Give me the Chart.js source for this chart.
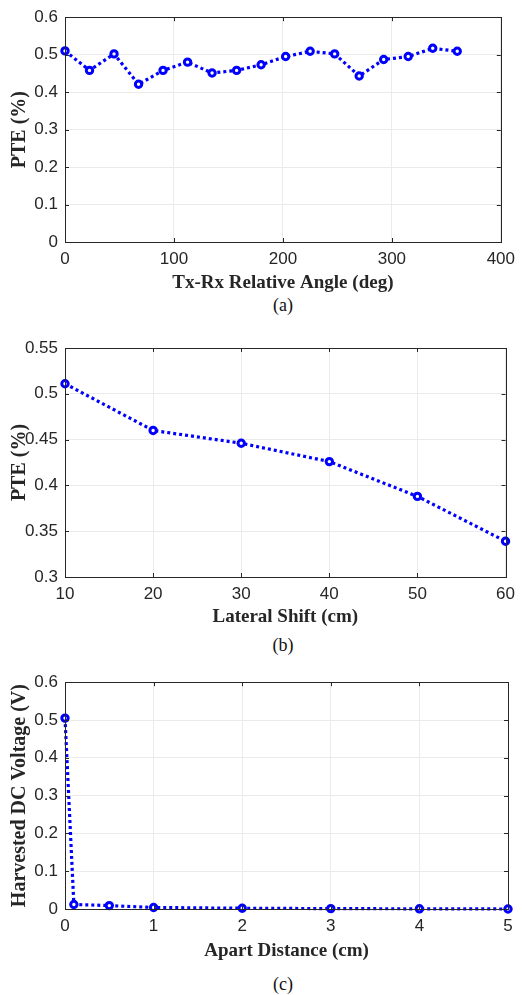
<!DOCTYPE html>
<html>
<head>
<meta charset="utf-8">
<script src="https://cdn.jsdelivr.net/npm/chart.js@4"></script>
<style>
  body { margin: 0; background: #fff; }
  .page { position: relative; width: 522px; height: 995px; }
  .panel { position: absolute; left: 0; }
  .caption {
    position: absolute; left: 233px; width: 100px; text-align: center;
    font: 18px 'Liberation Serif', serif; line-height: 20px; color: #111;
  }
</style>
</head>
<body>
<div class="page">
  <canvas id="chartA" class="panel" width="522" height="294" style="top:0px"></canvas>
  <div class="caption" style="top:295px">(a)</div>
  <canvas id="chartB" class="panel" width="522" height="298" style="top:330px"></canvas>
  <div class="caption" style="top:635px">(b)</div>
  <canvas id="chartC" class="panel" width="522" height="297" style="top:665px"></canvas>
  <div class="caption" style="top:974px">(c)</div>
</div>
<script>
// (a) PTE vs relative angle
const angleDeg = [0, 22.5, 45, 67.5, 90, 112.5, 135, 157.5, 180, 202.5, 225, 247.5, 270, 292.5, 315, 337.5, 360]
const pteAngle = [0.510, 0.458, 0.502, 0.421, 0.458, 0.480, 0.451, 0.458, 0.473, 0.495, 0.509, 0.502, 0.443, 0.487, 0.495, 0.517, 0.509]

// (b) PTE vs lateral shift
const shiftCm = [10, 20, 30, 40, 50, 60]
const pteShift = [0.511, 0.460, 0.446, 0.426, 0.388, 0.339]

// (c) harvested DC voltage vs apart distance
const distanceCm = [0, 0.1, 0.5, 1, 2, 3, 4, 5]
const voltage = [0.505, 0.012, 0.009, 0.004, 0.002, 0.001, 0.0005, 0]

const textColor = '#262626'
const tickFont = { family: "'Liberation Sans', Arial, sans-serif", size: 17 }
const xTitleFont = { family: "'Liberation Serif', 'Times New Roman', serif", size: 19, weight: 'bold' }
const yTitleFont = { family: "'Liberation Serif', 'Times New Roman', serif", size: 20, weight: 'bold' }

// MATLAB style box with inward tick marks
const boxPlugin = {
  id: 'box',
  afterDraw(chart) {
    const { ctx, chartArea: a, scales } = chart
    const len = 4
    ctx.save()
    ctx.strokeStyle = textColor
    ctx.lineWidth = 1
    ctx.beginPath()
    for (const t of scales.x.ticks) {
      const px = Math.round(scales.x.getPixelForValue(t.value)) + 0.5
      ctx.moveTo(px, a.bottom); ctx.lineTo(px, a.bottom - len)
      ctx.moveTo(px, a.top); ctx.lineTo(px, a.top + len)
    }
    for (const t of scales.y.ticks) {
      const py = Math.round(scales.y.getPixelForValue(t.value)) + 0.5
      ctx.moveTo(a.left, py); ctx.lineTo(a.left + len, py)
      ctx.moveTo(a.right, py); ctx.lineTo(a.right - len, py)
    }
    ctx.stroke()
    ctx.strokeRect(Math.round(a.left) + 0.5, Math.round(a.top) + 0.5,
      Math.round(a.right - a.left), Math.round(a.bottom - a.top))
    ctx.restore()
  },
}

function fmt(v) {
  return String(Number(v.toFixed(3)))
}

function renderPanel(id, opts) {
  const { xs, ys, xMin, xMax, xStep, yMin, yMax, yStep, xTitle, yTitle, padTop, axisH } = opts
  const ctx = document.getElementById(id).getContext('2d')

  new Chart(ctx, {
    type: 'line',
    data: {
      datasets: [{
        data: xs.map((x, i) => ({ x: x, y: ys[i] })),
        borderColor: '#0000ff',
        borderWidth: 3.2,
        borderDash: [3, 3],
        pointRadius: 3.2,
        pointBorderWidth: 3,
        pointBorderColor: '#0000ff',
        pointBackgroundColor: '#ffffff',
        tension: 0,
        clip: false,
      }],
    },
    plugins: [boxPlugin],
    options: {
      responsive: false,
      animation: false,
      layout: { padding: { top: padTop, right: 14, left: 0, bottom: 0 } },
      plugins: { legend: { display: false }, tooltip: { enabled: false } },
      scales: {
        x: {
          type: 'linear',
          min: xMin,
          max: xMax,
          afterFit: s => { s.height = axisH },
          ticks: { stepSize: xStep, color: textColor, font: tickFont, padding: 7, maxRotation: 0, callback: fmt },
          grid: { color: '#ebebeb', drawTicks: false },
          border: { display: false },
          title: { display: true, text: xTitle, color: textColor, font: xTitleFont, padding: { top: 0, bottom: 0 } },
        },
        y: {
          min: yMin,
          max: yMax,
          afterFit: s => { s.width = 65 },
          ticks: { stepSize: yStep, color: textColor, font: tickFont, padding: 7, callback: fmt },
          grid: { color: '#ebebeb', drawTicks: false },
          border: { display: false },
          title: { display: true, text: yTitle, color: textColor, font: yTitleFont, padding: { top: 8, bottom: 0 } },
        },
      },
    },
  })
}

renderPanel('chartA', {
  xs: angleDeg, ys: pteAngle, xMin: 0, xMax: 400, xStep: 100, yMin: 0, yMax: 0.6, yStep: 0.1,
  xTitle: 'Tx-Rx Relative Angle (deg)', yTitle: 'PTE (%)', padTop: 14, axisH: 52,
})
renderPanel('chartB', {
  xs: shiftCm, ys: pteShift, xMin: 10, xMax: 60, xStep: 10, yMin: 0.3, yMax: 0.55, yStep: 0.05,
  xTitle: 'Lateral Shift (cm)', yTitle: 'PTE (%)', padTop: 18, axisH: 51,
})
renderPanel('chartC', {
  xs: distanceCm, ys: voltage, xMin: 0, xMax: 5, xStep: 1, yMin: 0, yMax: 0.6, yStep: 0.1,
  xTitle: 'Apart Distance (cm)', yTitle: 'Harvested DC Voltage (V)', padTop: 16, axisH: 53,
})
</script>
</body>
</html>
